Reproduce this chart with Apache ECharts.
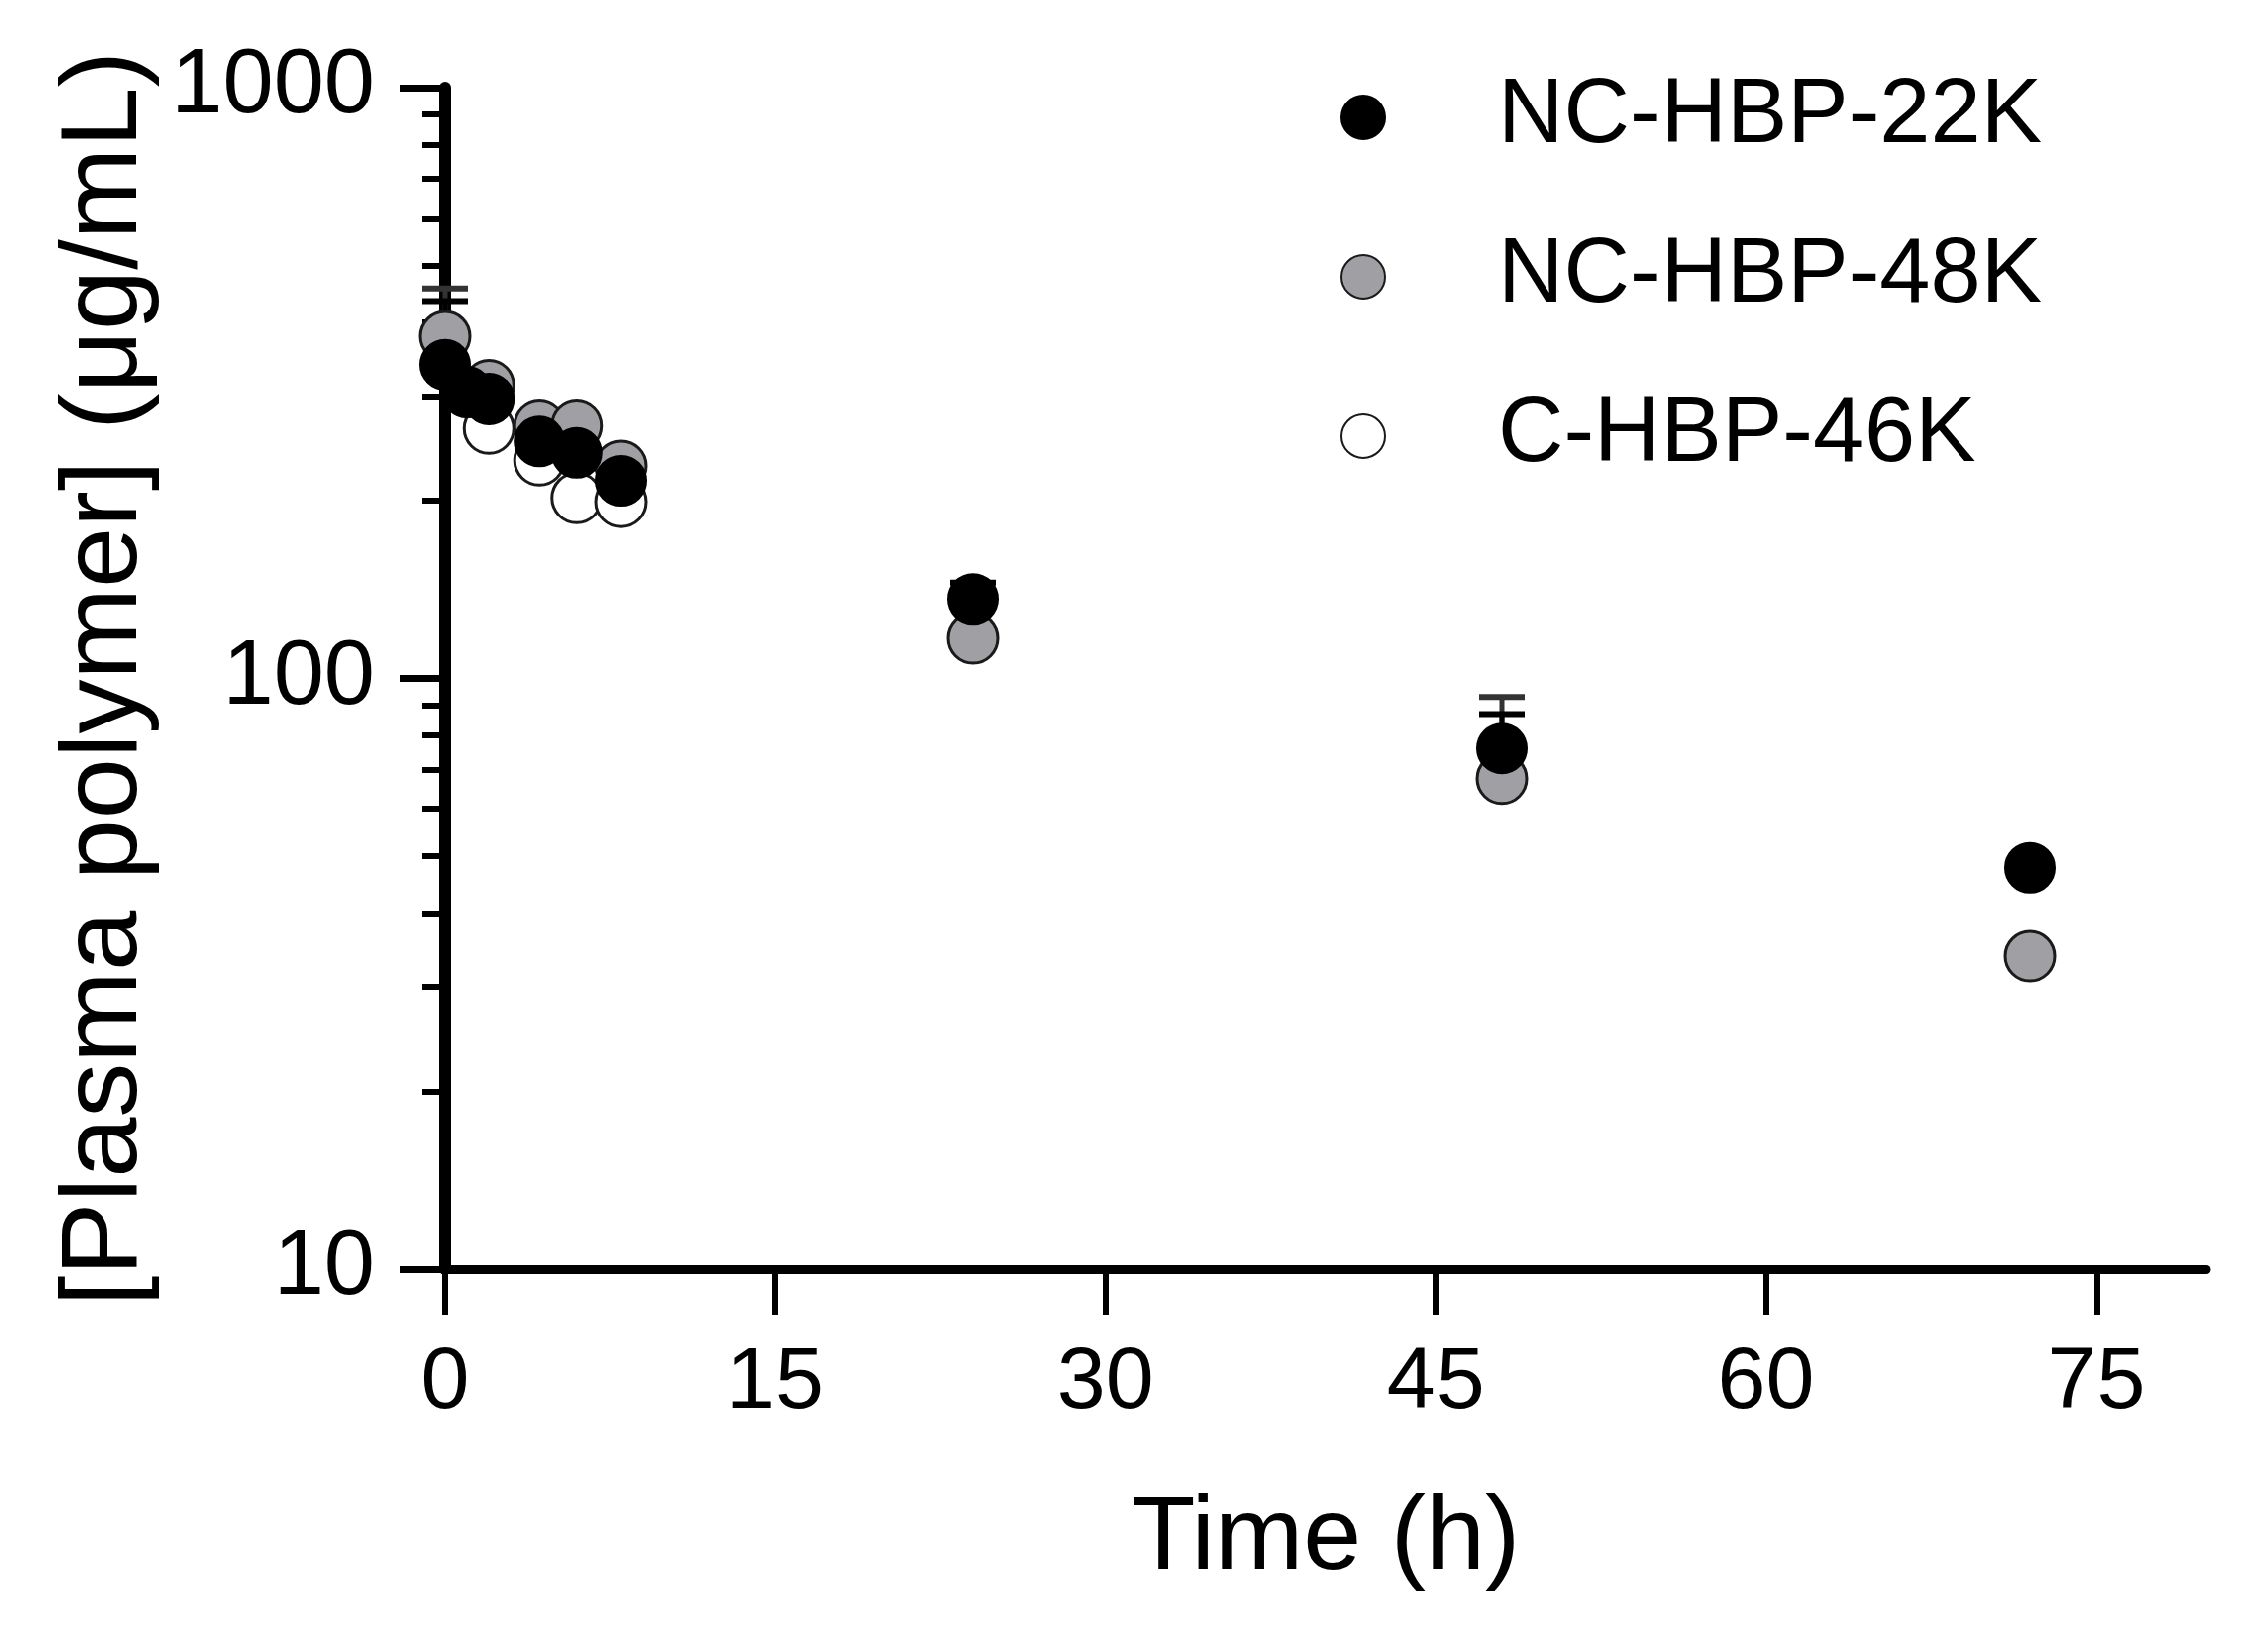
<!DOCTYPE html>
<html>
<head>
<meta charset="utf-8">
<script src="https://cdn.jsdelivr.net/npm/echarts@6/dist/echarts.min.js"></script>
<style>
html,body{margin:0;padding:0;background:#fff;}
#chart{width:2279px;height:1659px;}
</style>
</head>
<body>
<div id="chart"></div>
<script>
// ---- data ----
const seriesNames = ['NC-HBP-22K', 'NC-HBP-48K', 'C-HBP-46K'];
const time22 = [0, 1, 2, 4.3, 6, 8, 24, 48, 72];
const conc22 = [339, 305, 297, 252, 241, 216, 136, 76, 47.8];
const time48 = [0, 2, 4.3, 6, 8, 24, 48, 72];
const conc48 = [379, 313, 268, 268, 229, 117, 67.5, 33.8];
const time46 = [2, 4.3, 6, 8];
const conc46 = [265, 234, 202, 199];
// upper error bar ends
const errTime22 = [0, 24, 48];
const errMean22 = [339, 136, 76];
const errHigh22 = [435, 145, 87];
const errTime48 = [0, 48];
const errMean48 = [379, 67.5];
const errHigh48 = [457, 93];
const xTicks = [0, 15, 30, 45, 60, 75];
const yMajor = [10, 100, 1000];
const yMinor = [20, 30, 40, 50, 60, 70, 80, 90, 200, 300, 400, 500, 600, 700, 800, 900];

const FONT = '"Liberation Sans", Arial, Helvetica, sans-serif';

function pairs(xs, ys) { return xs.map((x, i) => [x, ys[i]]); }
function errData(ts, ms, hs) { return ts.map((t, i) => [t, ms[i], hs[i]]); }

function errRender(color) {
  return function (params, api) {
    const x = api.value(0), m = api.value(1), h = api.value(2);
    const p0 = api.coord([x, m]);
    const p1 = api.coord([x, h]);
    return {
      type: 'group',
      children: [
        { type: 'line', shape: { x1: p0[0], y1: p0[1], x2: p1[0], y2: p1[1] },
          style: { stroke: color, lineWidth: 5 } },
        { type: 'line', shape: { x1: p1[0] - 23, y1: p1[1], x2: p1[0] + 23, y2: p1[1] },
          style: { stroke: color, lineWidth: 6 } }
      ]
    };
  };
}

const chart = echarts.init(document.getElementById('chart'), null, { renderer: 'canvas' });
const option = {
  backgroundColor: '#ffffff',
  animation: false,
  grid: { left: 447, right: 62, top: 88, bottom: 384, containLabel: false },
  legend: {
    orient: 'vertical',
    left: 1342,
    top: 67,
    data: seriesNames,
    icon: 'circle',
    itemWidth: 44,
    itemHeight: 44,
    itemGap: 68,
    textStyle: { fontFamily: FONT, fontSize: 92, color: '#000', lineHeight: 92, padding: [0, 0, 0, 108] }
  },
  xAxis: {
    type: 'value',
    min: 0,
    max: 80,
    interval: 15,
    name: 'Time (h)',
    nameLocation: 'middle',
    nameGap: 220,
    nameTextStyle: { fontFamily: FONT, fontSize: 106, color: '#000' },
    axisLine: { show: true, onZero: false, lineStyle: { color: '#000', width: 9 } },
    axisTick: { show: true, length: 46, customValues: xTicks, lineStyle: { color: '#000', width: 6 } },
    axisLabel: { customValues: xTicks, margin: 72, fontFamily: FONT, fontSize: 88, color: '#000' },
    splitLine: { show: false }
  },
  yAxis: [
    {
      type: 'log',
      logBase: 10,
      min: 10,
      max: 1000,
      name: '[Plasma polymer] (μg/mL)',
      nameLocation: 'middle',
      nameGap: 282,
      nameTextStyle: { fontFamily: FONT, fontSize: 110, color: '#000' },
      axisLine: { show: true, onZero: false, lineStyle: { color: '#000', width: 12 } },
      axisTick: { show: true, length: 45, lineStyle: { color: '#000', width: 7 } },
      axisLabel: { margin: 70, fontFamily: FONT, fontSize: 92, color: '#000',
                   formatter: function (v) { return String(Math.round(v)); } },
      splitLine: { show: false }
    },
    {
      type: 'log',
      logBase: 10,
      min: 10,
      max: 1000,
      position: 'left',
      axisLine: { show: false },
      axisTick: { show: true, length: 23, customValues: yMinor, lineStyle: { color: '#000', width: 6 } },
      axisLabel: { show: false },
      splitLine: { show: false }
    }
  ],
  series: [
    {
      type: 'custom', name: 'err48', z: 1, renderItem: errRender('#333'),
      data: errData(errTime48, errMean48, errHigh48), silent: true
    },
    {
      type: 'custom', name: 'err22', z: 1, renderItem: errRender('#000'),
      data: errData(errTime22, errMean22, errHigh22), silent: true
    },
    {
      name: seriesNames[2], type: 'scatter', z: 2, symbol: 'circle', symbolSize: 50,
      itemStyle: { color: '#ffffff', borderColor: '#1a1a1a', borderWidth: 3, opacity: 1 },
      data: pairs(time46, conc46)
    },
    {
      name: seriesNames[1], type: 'scatter', z: 2, symbol: 'circle', symbolSize: 50,
      itemStyle: { color: '#a0a0a4', borderColor: '#1a1a1a', borderWidth: 3, opacity: 1 },
      data: pairs(time48, conc48)
    },
    {
      name: seriesNames[0], type: 'scatter', z: 2, symbol: 'circle', symbolSize: 50,
      itemStyle: { color: '#000000', borderColor: '#000000', borderWidth: 2, opacity: 1 },
      data: pairs(time22, conc22)
    }
  ]
};
chart.setOption(option);
</script>
</body>
</html>
